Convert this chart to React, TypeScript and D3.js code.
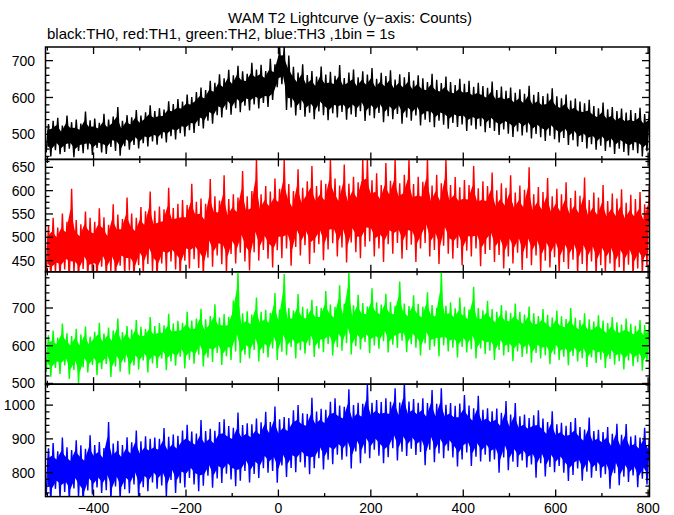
import React from "react";
import * as d3 from "d3";

// ---- data: per-10s-bin min / max counts (x = bin centre, s) ----
const binStart = -500;
const binStep = 10;

const blackLow = [451,440,457,446,452,461,438,455,449,459,444,463,451,447,466,455,442,468,458,471,462,476,467,481,472,489,478,495,486,503,494,511,504,523,516,537,529,552,546,567,553,571,560,578,565,581,570,585,574,593,628,636,566,573,551,566,548,559,541,562,552,538,557,546,561,540,554,547,563,536,551,544,558,533,549,541,555,529,546,537,551,524,540,533,519,537,526,515,531,520,527,509,524,514,522,506,517,509,498,513,502,493,508,497,505,489,501,492,482,496,487,478,490,471,484,467,479,462,473,458,469,455,465,447,461,452,443,457,449,440,454];
const blackHigh = [528,537,545,524,551,533,540,529,562,538,543,531,556,540,548,574,537,552,546,566,551,560,579,563,571,567,590,582,596,589,608,601,615,627,620,645,640,663,652,675,660,686,671,664,694,676,689,672,705,690,737,737,714,683,668,690,661,672,657,684,662,670,659,688,653,668,676,655,671,662,680,651,667,658,674,649,663,655,669,646,660,652,642,664,648,639,657,642,634,651,637,645,629,640,631,626,643,620,630,618,627,613,622,610,632,607,615,604,611,625,603,598,608,592,597,589,584,594,577,571,586,568,574,563,570,559,566,558,572,555,561];

const redLow = [419,408,425,410,431,405,422,410,432,412,421,405,437,415,427,404,439,419,429,410,440,421,443,426,410,444,427,448,431,412,450,433,453,434,415,456,437,461,442,424,464,444,467,448,429,468,450,473,454,435,472,455,476,439,479,461,483,443,467,485,451,474,487,459,478,446,489,468,455,480,491,459,476,447,485,465,488,454,473,484,447,476,488,459,473,443,482,465,454,477,440,471,459,476,438,464,473,447,462,433,459,444,467,430,455,440,461,426,450,435,457,424,447,432,452,420,443,428,448,416,440,425,444,413,436,421,441,411,433,418,438];
const redHigh = [526,542,521,551,533,604,537,528,555,542,533,562,543,527,571,549,539,585,551,542,565,556,598,557,566,560,606,563,572,580,569,615,576,583,572,625,588,579,633,582,592,585,642,588,599,667,592,610,598,626,604,667,614,599,646,606,620,653,610,622,615,667,626,611,656,615,630,618,667,667,622,637,612,659,621,667,616,634,667,614,630,619,667,611,634,616,667,612,629,607,623,612,653,605,620,610,639,601,616,606,633,596,611,602,650,592,608,597,627,588,604,592,618,584,600,589,628,580,596,585,612,578,594,583,603,574,591,582,597,571,610];

const greenLow = [530,518,541,525,548,512,536,500,543,529,549,522,538,552,517,545,531,556,524,548,537,561,529,553,541,566,535,558,547,571,540,563,552,576,545,568,557,581,549,572,562,585,554,576,566,589,558,580,569,593,562,584,575,597,566,588,579,601,570,592,583,604,574,596,587,607,577,599,590,610,580,601,592,612,582,603,594,613,583,604,595,574,606,589,598,572,601,585,595,569,597,582,591,566,593,578,587,562,589,574,583,559,585,570,579,555,581,566,575,551,577,562,571,548,573,558,567,544,569,554,563,541,565,550,559,537,561,546,556,534,558];
const greenHigh = [628,640,622,659,633,626,645,630,651,624,637,661,632,648,640,672,636,652,643,668,650,645,676,652,660,654,685,659,666,661,690,667,672,698,670,679,710,675,684,677,720,796,686,691,683,728,690,695,687,740,696,790,700,693,737,703,698,722,705,700,745,709,703,760,711,796,707,735,713,704,752,715,709,738,716,706,770,712,705,734,711,703,742,708,700,796,706,715,699,728,703,696,756,700,694,719,697,690,708,693,687,712,690,683,704,686,679,697,682,675,693,678,671,700,674,668,686,670,664,681,667,660,676,662,656,672,658,653,668,655,662];

const blueLow = [734,715,752,724,743,718,753,729,708,747,735,756,740,748,718,759,721,751,739,765,727,757,745,771,752,762,728,778,740,769,756,784,765,745,761,791,755,783,769,797,780,760,776,805,771,796,784,813,800,805,770,821,787,814,801,831,815,795,813,843,809,838,825,853,838,848,812,863,828,857,843,868,850,828,846,872,836,862,849,871,852,861,822,868,831,857,843,865,845,818,839,860,820,847,833,853,832,839,800,845,807,832,817,836,815,824,785,828,789,817,801,820,800,775,793,812,776,803,785,805,785,795,752,798,763,788,772,792,757,782,765];
const blueHigh = [872,888,863,904,875,867,896,881,871,911,882,891,873,950,886,894,882,905,890,925,893,908,900,904,900,932,906,913,909,925,942,922,916,956,923,930,924,950,958,938,933,978,941,946,943,960,949,980,950,996,958,965,962,985,1000,976,974,1022,981,989,986,1010,1020,999,995,1047,1000,1007,1004,1062,1007,1015,1009,1020,1010,1050,1008,1067,1011,1018,1007,1020,1006,1045,1004,1050,1001,1006,998,1005,1030,999,991,1028,986,991,982,990,977,1012,972,1006,967,972,962,970,985,960,950,982,943,948,939,950,962,935,928,963,923,927,920,935,915,945,912,944,907,911,904,933,900];

const xMajorTicks = [-400, -200, 0, 200, 400, 600, 800];
const xMinorTicks = [-500, -300, -100, 100, 300, 500, 700];
const xDomain = [-504, 803];

const titleText = "WAM T2 Lightcurve (y\u2212axis: Counts)";
const subtitleText = "black:TH0, red:TH1, green:TH2, blue:TH3 ,1bin = 1s";

const panelDefs = [
  { key: "TH0", color: "#000000", low: blackLow, high: blackHigh, domain: [432, 737], labels: [500, 600, 700], minor: 20 },
  { key: "TH1", color: "#ff0000", low: redLow, high: redHigh, domain: [426, 667], labels: [450, 500, 550, 600, 650], minor: 12.5 },
  { key: "TH2", color: "#00ff00", low: greenLow, high: greenHigh, domain: [498, 796], labels: [500, 600, 700], minor: 20 },
  { key: "TH3", color: "#0000ff", low: blueLow, high: blueHigh, domain: [729, 1062], labels: [800, 900, 1000], minor: 20 },
];

const W = 674;
const H = 515;
const left = 45.5;
const right = 649.5;
const top0 = 47;
const panelH = 112.4;
const fontFam = "'Liberation Sans', Arial, Helvetica, sans-serif";

function fmt(v: number) {
  return v < 0 ? "\u2212" + Math.abs(v) : String(v);
}

export default function App() {
  const x = d3.scaleLinear().domain(xDomain).range([left, right]);

  return (
    <svg width={W} height={H} style={{ position: "absolute", left: 0, top: 0, background: "#fff" }} fontFamily={fontFam}>
      <rect x={0} y={0} width={W} height={H} fill="#fff" />
      <text x={350} y={23} fontSize={15} textAnchor="middle" fill="#000">{titleText}</text>
      <text x={47} y={38.5} fontSize={15} fill="#000">{subtitleText}</text>
      {panelDefs.map((p, pi) => {
        const pt = top0 + pi * panelH;
        const pb = pt + panelH;
        const y = d3.scaleLinear().domain(p.domain).range([pb, pt]);
        // dense core of each bin (inner part of the min..max range)
        const core = d3
          .area<number>()
          .x((_, i) => x(binStart + i * binStep))
          .y0((_, i) => y(p.low[i] + 0.22 * (p.high[i] - p.low[i])))
          .y1((_, i) => y(p.high[i] - 0.22 * (p.high[i] - p.low[i])))
          .curve(d3.curveLinear);
        const corePath = core(p.low) || "";
        // zigzag through each bin's minimum then maximum (needle-like spikes)
        const zig: [number, number][] = [];
        p.low.forEach((lo, i) => {
          const t = binStart + i * binStep;
          zig.push([x(t - binStep * 0.25), y(lo)]);
          zig.push([x(t + binStep * 0.25), y(p.high[i])]);
        });
        const zigPath = d3.line().curve(d3.curveLinear)(zig) || "";
        const clipId = "clip" + pi;
        const minorVals = d3.range(Math.ceil(p.domain[0] / p.minor) * p.minor, p.domain[1], p.minor).filter((v) => !p.labels.some((l) => Math.abs(l - v) < 1e-6));
        return (
          <g key={p.key}>
            <clipPath id={clipId}>
              <rect x={left} y={pt} width={right - left} height={panelH} />
            </clipPath>
            <g clipPath={`url(#${clipId})`}>
              <path d={corePath} fill={p.color} stroke="none" />
              <path d={zigPath} fill="none" stroke={p.color} strokeWidth={1.4} strokeLinejoin="miter" strokeMiterlimit={2} />
            </g>
            {p.labels.map((v) => (
              <g key={"M" + v}>
                <line x1={left} x2={left + 7.5} y1={y(v)} y2={y(v)} stroke="#000" strokeWidth={1.3} />
                <line x1={right} x2={right - 7.5} y1={y(v)} y2={y(v)} stroke="#000" strokeWidth={1.3} />
                <text x={35} y={y(v)} dy="0.36em" fontSize={14} textAnchor="end" fill="#000">{fmt(v)}</text>
              </g>
            ))}
            {minorVals.map((v) => (
              <g key={"m" + v}>
                <line x1={left} x2={left + 4} y1={y(v)} y2={y(v)} stroke="#000" strokeWidth={1.3} />
                <line x1={right} x2={right - 4} y1={y(v)} y2={y(v)} stroke="#000" strokeWidth={1.3} />
              </g>
            ))}
            {xMajorTicks.map((v) => (
              <g key={"X" + v}>
                <line x1={x(v)} x2={x(v)} y1={pb} y2={pb - 7} stroke="#000" strokeWidth={1.3} />
                <line x1={x(v)} x2={x(v)} y1={pt} y2={pt + 7} stroke="#000" strokeWidth={1.3} />
              </g>
            ))}
            {xMinorTicks.map((v) => (
              <g key={"x" + v}>
                <line x1={x(v)} x2={x(v)} y1={pb} y2={pb - 3.5} stroke="#000" strokeWidth={1.3} />
                <line x1={x(v)} x2={x(v)} y1={pt} y2={pt + 3.5} stroke="#000" strokeWidth={1.3} />
              </g>
            ))}
            <rect x={left} y={pt} width={right - left} height={panelH} fill="none" stroke="#000" strokeWidth={1.5} />
          </g>
        );
      })}
      {xMajorTicks.map((v) => (
        <text key={"xl" + v} x={x(v)} y={512.5} fontSize={14} textAnchor="middle" fill="#000">{fmt(v)}</text>
      ))}
    </svg>
  );
}
